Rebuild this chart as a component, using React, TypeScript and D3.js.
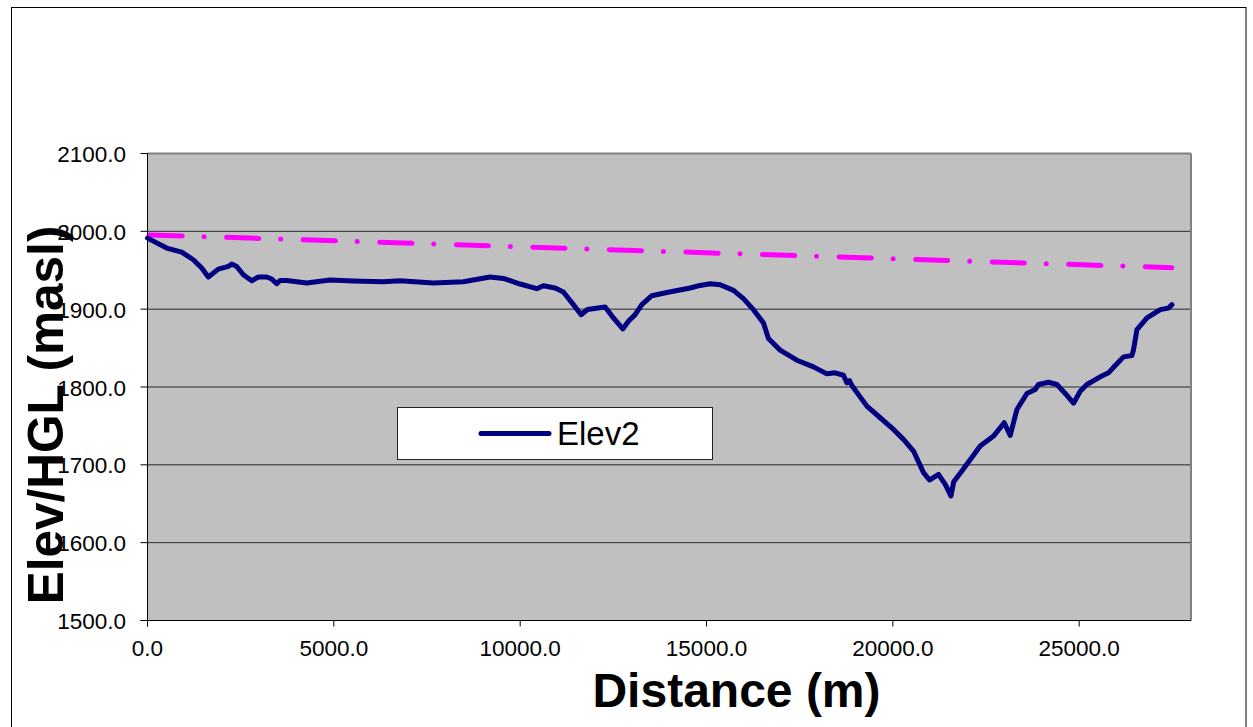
import React from "react";
import * as d3 from "d3";

// Ground profile along the pipeline route: distance (m) and elevation (masl)
const distance: number[] = [
  0, 515, 918, 1229, 1455, 1632, 1900, 2169, 2260, 2394, 2571, 2797, 2974, 3199, 3333, 3468, 3556, 3736,
  4273, 4898, 5523, 6329, 6777, 7671, 8476, 9192, 9550, 9998, 10446, 10623, 10937, 11160, 11428, 11635,
  11804, 12279, 12502, 12754, 12904, 13084, 13264, 13532, 13935, 14560, 14829, 15097, 15366, 15723, 15991,
  16259, 16528, 16662, 16976, 17424, 17870, 18229, 18452, 18675, 18766, 18836, 18900, 19303, 19660, 20017,
  20285, 20554, 20822, 20983, 21225, 21405, 21558, 21633, 21853, 22344, 22701, 22988, 23149, 23329, 23597,
  23820, 23909, 24177, 24403, 24625, 24848, 25028, 25208, 25564, 25787, 25967, 26190, 26415, 26458, 26550,
  26818, 27175, 27398, 27489,
];
const elev2: number[] = [
  1991.3, 1978.5, 1973.3, 1963.5, 1952.8, 1941.3, 1951.5, 1954.9, 1958.0, 1954.9, 1944.2, 1936.5, 1941.3,
  1941.3, 1938.7, 1932.7, 1936.9, 1936.9, 1933.6, 1937.4, 1936.2, 1935.3, 1936.5, 1933.6, 1935.3, 1941.3,
  1939.5, 1932.3, 1926.3, 1930.1, 1927.2, 1922.0, 1905.8, 1892.9, 1899.5, 1902.8, 1888.7, 1874.6, 1884.4,
  1893.0, 1905.8, 1917.3, 1921.5, 1927.2, 1930.5, 1932.7, 1931.4, 1924.1, 1913.5, 1899.4, 1882.3, 1862.2,
  1847.4, 1834.4, 1825.9, 1816.9, 1818.2, 1815.1, 1805.4, 1808.3, 1801.9, 1775.4, 1760.5, 1745.5, 1732.7,
  1717.7, 1690.0, 1680.5, 1687.8, 1675.0, 1660.0, 1678.2, 1692.0, 1724.1, 1736.9, 1754.1, 1737.8, 1771.1,
  1791.7, 1796.8, 1803.2, 1806.1, 1803.2, 1791.7, 1779.2, 1794.6, 1803.2, 1813.1, 1818.2, 1827.6, 1838.7,
  1840.4, 1848.1, 1873.7, 1888.7, 1899.4, 1901.5, 1905.8,
];

// Hydraulic grade line (straight between the two ends)
const hglDistance: number[] = [0, 27489];
const hgl: number[] = [1995.5, 1953.3];

const xTicks: number[] = [0, 5000, 10000, 15000, 20000, 25000];
const yTicks: number[] = [1500, 1600, 1700, 1800, 1900, 2000, 2100];

const FONT = "Arial, 'Liberation Sans', Helvetica, sans-serif";

export default function App() {
  const W = 1253;
  const H = 727;
  const left = 147.5;
  const right = 1191;
  const top = 153.5;
  const bottom = 620.5;

  const x = d3.scaleLinear().domain([0, 28000]).range([left, right]);
  const y = d3.scaleLinear().domain([1500, 2100]).range([bottom, top]);

  const line = d3
    .line<[number, number]>()
    .x((d) => x(d[0]))
    .y((d) => y(d[1]));

  const elevPts: [number, number][] = distance.map((d, i) => [d, elev2[i]]);
  const hglPts: [number, number][] = hglDistance.map((d, i) => [d, hgl[i]]);

  return (
    <div style={{ position: "absolute", left: 0, top: 0 }}>
      <svg width={W} height={H} style={{ display: "block", background: "#fff" }}>
        {/* chart frame */}
        <rect x={11.5} y={7.5} width={1234.5} height={740} fill="#fff" stroke="#000" strokeWidth={1} />

        {/* plot area */}
        <rect x={left} y={top} width={right - left} height={bottom - top} fill="#C0C0C0" />
        {yTicks
          .filter((t) => t > 1500 && t < 2100)
          .map((t) => (
            <line key={t} x1={left} x2={right} y1={y(t)} y2={y(t)} stroke="#2a2a2a" strokeWidth={1} />
          ))}
        <line x1={left} x2={right} y1={top} y2={top} stroke="#808080" strokeWidth={2} />
        <line x1={right} x2={right} y1={top} y2={bottom} stroke="#808080" strokeWidth={2} />

        {/* axes */}
        <line x1={left} x2={left} y1={top} y2={bottom + 6} stroke="#000" strokeWidth={1} />
        <line x1={left - 7} x2={right} y1={bottom} y2={bottom} stroke="#000" strokeWidth={1} />
        {yTicks.map((t) => (
          <line key={t} x1={left - 7} x2={left} y1={y(t)} y2={y(t)} stroke="#000" strokeWidth={1} />
        ))}
        {xTicks.map((t) => (
          <line key={t} x1={x(t)} x2={x(t)} y1={bottom} y2={bottom + 6} stroke="#000" strokeWidth={1} />
        ))}

        {/* data series */}
        <path
          d={line(hglPts) || ""}
          fill="none"
          stroke="#FF00FF"
          strokeWidth={5}
          strokeLinecap="round"
          strokeDasharray="32.3 21.8 0 22.5"
          strokeDashoffset={-2.5}
        />
        <path
          d={line(elevPts) || ""}
          fill="none"
          stroke="#000080"
          strokeWidth={5}
          strokeLinejoin="round"
          strokeLinecap="round"
        />

        {/* tick labels */}
        {yTicks.map((t) => (
          <text
            key={t}
            x={126}
            y={y(t) + 8.5}
            textAnchor="end"
            fontFamily={FONT}
            fontSize={22.5}
            fill="#000"
          >
            {t.toFixed(1)}
          </text>
        ))}
        {xTicks.map((t) => (
          <text
            key={t}
            x={x(t)}
            y={656}
            textAnchor="middle"
            fontFamily={FONT}
            fontSize={22.5}
            fill="#000"
          >
            {t.toFixed(1)}
          </text>
        ))}

        {/* legend */}
        <rect x={397.5} y={407.5} width={315} height={52} fill="#fff" stroke="#222" strokeWidth={1} />
        <line x1={481} x2={549} y1={433.5} y2={433.5} stroke="#000080" strokeWidth={5} strokeLinecap="round" />
        <text x={557} y={445} fontFamily={FONT} fontSize={33} fill="#000">
          Elev2
        </text>

        {/* axis titles */}
        <text
          x={736.5}
          y={707}
          textAnchor="middle"
          fontFamily={FONT}
          fontSize={48}
          fontWeight="bold"
          fill="#000"
        >
          Distance (m)
        </text>
        <text
          transform="translate(63,415) rotate(-90)"
          textAnchor="middle"
          fontFamily={FONT}
          fontSize={49.5}
          fontWeight="bold"
          fill="#000"
        >
          Elev/HGL (masl)
        </text>
      </svg>
    </div>
  );
}
